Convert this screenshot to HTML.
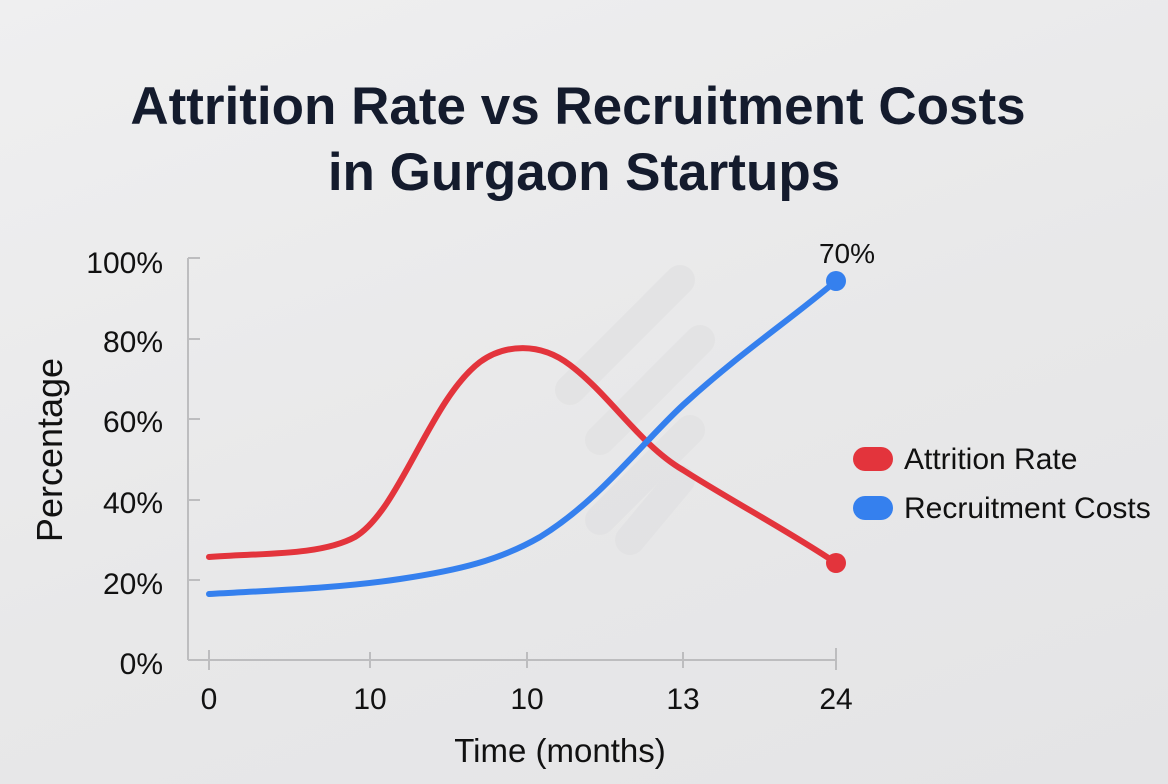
<!DOCTYPE html>
<html><head><meta charset="utf-8"><style>
html,body{margin:0;padding:0}
body{width:1168px;height:784px;overflow:hidden;background:linear-gradient(160deg,#efeff0 0%,#e8e8e9 55%,#e4e4e6 100%);font-family:"Liberation Sans",sans-serif}
</style></head><body>
<svg width="1168" height="784" xmlns="http://www.w3.org/2000/svg" style="position:absolute;left:0;top:0">
<g stroke="#e0e0e1" stroke-width="30" stroke-linecap="round" opacity="0.6">
<line x1="680" y1="280" x2="570" y2="390"/>
<line x1="700" y1="340" x2="600" y2="440"/>
<line x1="690" y1="430" x2="600" y2="520"/>
<line x1="680" y1="480" x2="630" y2="540"/>
</g>
<g font-family="Liberation Sans, sans-serif" fill="#141b2d" text-anchor="middle" font-weight="bold">
<text x="578" y="124" font-size="53">Attrition Rate vs Recruitment Costs</text>
<text x="584" y="190" font-size="53">in Gurgaon Startups</text>
</g>
<g stroke="#bdbdbf" stroke-width="2" fill="none">
<line x1="188" y1="258" x2="188" y2="660"/>
<line x1="188" y1="660" x2="837" y2="660"/>
<line x1="188" y1="258" x2="200" y2="258"/>
<line x1="188" y1="339" x2="200" y2="339"/>
<line x1="188" y1="419" x2="200" y2="419"/>
<line x1="188" y1="500" x2="200" y2="500"/>
<line x1="188" y1="580" x2="200" y2="580"/>
<line x1="209" y1="650" x2="209" y2="670"/>
<line x1="370" y1="652" x2="370" y2="668"/>
<line x1="527" y1="652" x2="527" y2="668"/>
<line x1="683" y1="652" x2="683" y2="668"/>
<line x1="836" y1="648" x2="836" y2="670"/>
</g>
<g font-family="Liberation Sans, sans-serif" font-size="30" fill="#111" text-anchor="end">
<text x="163" y="273">100%</text>
<text x="163" y="352">80%</text>
<text x="163" y="432">60%</text>
<text x="163" y="513">40%</text>
<text x="163" y="594">20%</text>
<text x="163" y="674">0%</text>
</g>
<g font-family="Liberation Sans, sans-serif" font-size="30" fill="#111" text-anchor="middle">
<text x="209" y="709">0</text>
<text x="370" y="709">10</text>
<text x="527" y="709">10</text>
<text x="683" y="709">13</text>
<text x="836" y="709">24</text>
<text x="560" y="762" font-size="33">Time (months)</text>
<text x="847" y="263" font-size="28">70%</text>
<text transform="translate(62,450) rotate(-90)" font-size="36">Percentage</text>
</g>
<path d="M209,557 C260,553 320,556 355,537 C400,510 430,400 480,362 C505,344 540,342 570,365 C610,395 640,445 683,470 C730,500 790,532 836,563" stroke="#e3343c" stroke-width="6" fill="none" stroke-linecap="round"/>
<path d="M209,594 C280,590 340,588 400,579 C460,570 500,560 540,537 C600,500 640,445 683,405 C740,353 790,320 836,281" stroke="#3580ee" stroke-width="6" fill="none" stroke-linecap="round"/>
<circle cx="836" cy="563" r="10" fill="#e3343c"/>
<circle cx="836" cy="281" r="10" fill="#3580ee"/>
<rect x="853" y="447" width="40" height="24" rx="12" fill="#e3343c"/>
<rect x="853" y="496" width="40" height="24" rx="12" fill="#3580ee"/>
<g font-family="Liberation Sans, sans-serif" font-size="30" fill="#111">
<text x="904" y="469">Attrition Rate</text>
<text x="904" y="518">Recruitment Costs</text>
</g>
</svg>
</body></html>
